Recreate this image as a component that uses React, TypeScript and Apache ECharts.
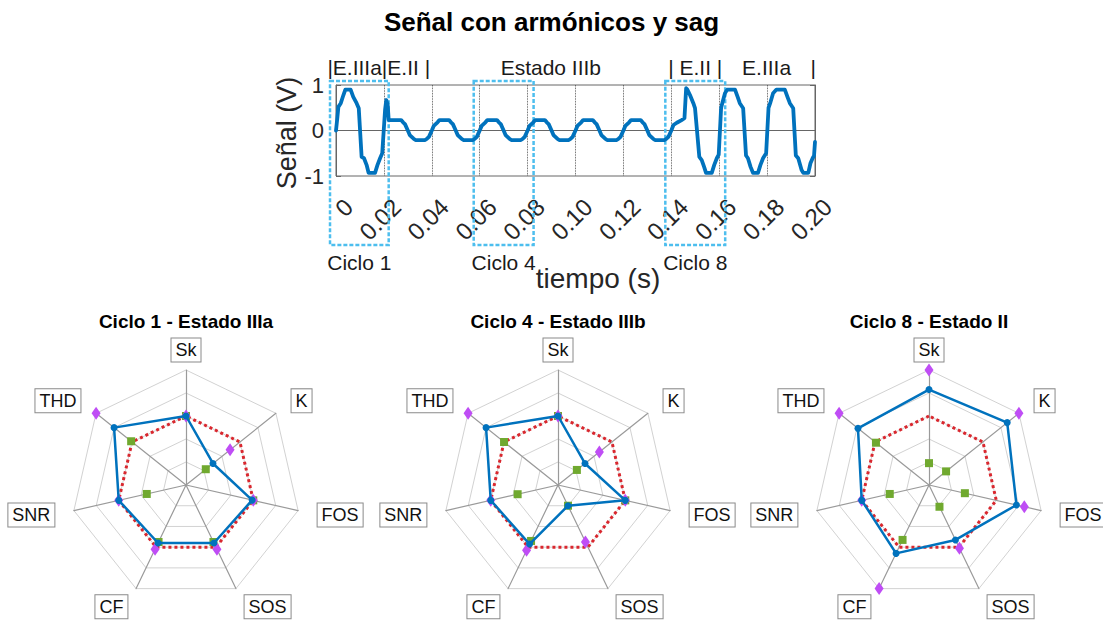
import React, { useEffect, useRef } from 'react';
import * as echarts from 'echarts';

const FONT = "'Liberation Sans', Arial, Helvetica, sans-serif";

// ---------- top chart data ----------
const TITLE = 'Señal con armónicos y sag';
const X_NAME = 'tiempo (s)';
const Y_NAME = 'Señal (V)';
const X_TICKS = ['0', '0.02', '0.04', '0.06', '0.08', '0.10', '0.12', '0.14', '0.16', '0.18', '0.20'];
const Y_TICKS = ['-1', '0', '1'];

// [time (s), signal (V)]
const SIGNAL: [number, number][] = [
  [0.0000, 0.00], [0.0006, 0.30], [0.0010, 0.52], [0.0020, 0.60], [0.0031, 0.78], [0.0039, 0.90],
  [0.0061, 0.90], [0.0072, 0.74], [0.0086, 0.60], [0.0095, 0.49], [0.0107, -0.58], [0.0117, -0.61],
  [0.0128, -0.76], [0.0136, -0.93], [0.0163, -0.93], [0.0173, -0.76], [0.0184, -0.61], [0.0193, -0.50],
  [0.0205, 0.46], [0.0210, 0.67], [0.0216, 0.56], [0.0220, 0.23],
  [0.0232, 0.23], [0.0272, 0.23], [0.0280, 0.18], [0.0288, 0.14], [0.0300, 0.00], [0.0308, -0.10],
  [0.0316, -0.14], [0.0324, -0.18], [0.0332, -0.21], [0.0372, -0.21], [0.0380, -0.18], [0.0388, -0.14],
  [0.0400, 0.00], [0.0408, 0.10], [0.0416, 0.14], [0.0424, 0.18], [0.0432, 0.23], [0.0472, 0.23],
  [0.0480, 0.18], [0.0488, 0.14], [0.0500, 0.00], [0.0508, -0.10], [0.0516, -0.14], [0.0524, -0.18],
  [0.0532, -0.21], [0.0572, -0.21], [0.0580, -0.18], [0.0588, -0.14],
  [0.0600, 0.00], [0.0608, 0.10], [0.0616, 0.14], [0.0624, 0.18], [0.0632, 0.23], [0.0672, 0.23],
  [0.0680, 0.18], [0.0688, 0.14], [0.0700, 0.00], [0.0708, -0.10], [0.0716, -0.14], [0.0724, -0.18],
  [0.0732, -0.21], [0.0772, -0.21], [0.0780, -0.18], [0.0788, -0.14],
  [0.0800, 0.00], [0.0808, 0.10], [0.0816, 0.14], [0.0824, 0.18], [0.0832, 0.23], [0.0872, 0.23],
  [0.0880, 0.18], [0.0888, 0.14], [0.0900, 0.00], [0.0908, -0.10], [0.0916, -0.14], [0.0924, -0.18],
  [0.0932, -0.21], [0.0972, -0.21], [0.0980, -0.18], [0.0988, -0.14],
  [0.1000, 0.00], [0.1008, 0.10], [0.1016, 0.14], [0.1024, 0.18], [0.1032, 0.23], [0.1072, 0.23],
  [0.1080, 0.18], [0.1088, 0.14], [0.1100, 0.00], [0.1108, -0.10], [0.1116, -0.14], [0.1124, -0.18],
  [0.1132, -0.21], [0.1172, -0.21], [0.1180, -0.18], [0.1188, -0.14],
  [0.1200, 0.00], [0.1208, 0.10], [0.1216, 0.14], [0.1224, 0.18], [0.1232, 0.23], [0.1272, 0.23],
  [0.1280, 0.18], [0.1288, 0.14], [0.1300, 0.00], [0.1308, -0.10], [0.1316, -0.14], [0.1324, -0.18],
  [0.1332, -0.21], [0.1372, -0.21], [0.1380, -0.18], [0.1388, -0.14],
  [0.1400, 0.00], [0.1409, 0.12], [0.1423, 0.17], [0.1443, 0.23], [0.1455, 0.27], [0.1462, 0.93],
  [0.1467, 0.90], [0.1478, 0.78], [0.1492, 0.60], [0.1499, 0.49], [0.1517, -0.58], [0.1527, -0.65],
  [0.1537, -0.80], [0.1545, -0.93], [0.1569, -0.93], [0.1579, -0.76], [0.1590, -0.61], [0.1598, -0.53],
  [0.1608, 0.50], [0.1614, 0.62], [0.1624, 0.82], [0.1634, 0.90], [0.1666, 0.90], [0.1677, 0.74],
  [0.1686, 0.60], [0.1700, 0.49], [0.1712, -0.55], [0.1720, -0.61], [0.1731, -0.80], [0.1741, -0.93],
  [0.1762, -0.93], [0.1772, -0.76], [0.1783, -0.61], [0.1796, -0.50],
  [0.1806, 0.50], [0.1814, 0.62], [0.1825, 0.82], [0.1839, 0.90], [0.1874, 0.90], [0.1885, 0.74],
  [0.1895, 0.60], [0.1909, 0.49], [0.1920, -0.55], [0.1930, -0.61], [0.1944, -0.87], [0.1951, -0.93],
  [0.1972, -0.93], [0.1981, -0.72], [0.1990, -0.61], [0.1996, -0.55], [0.2000, -0.25],
];

const STATE_LABELS = ['|E.IIIa|E.II |', 'Estado IIIb', '| E.II |', 'E.IIIa', '|'];
const STATE_T = [-0.0036, 0.0897, 0.1387, 0.1798, 0.1993];
const STATE_ALIGN = ['left', 'center', 'left', 'center', 'center'];

const CYCLE_LABELS = ['Ciclo 1', 'Ciclo 4', 'Ciclo 8'];
const CYCLE_START = [-0.0025, 0.0575, 0.1375];
const CYCLE_END = [0.0220, 0.0825, 0.1625];

// ---------- radar data (clockwise from top) ----------
const RADAR_AXES = ['Sk', 'K', 'FOS', 'SOS', 'CF', 'SNR', 'THD'];
const RADAR_TITLES = ['Ciclo 1 - Estado IIIa', 'Ciclo 4 - Estado IIIb', 'Ciclo 8 - Estado II'];

const REFERENCE_C1 = [0.60, 0.60, 0.60, 0.60, 0.60, 0.60, 0.60];
const VALUE_C1 = [0.60, 0.30, 0.59, 0.56, 0.56, 0.60, 0.80];
const MAX_C1 = [0.60, 0.49, 0.60, 0.62, 0.62, 0.60, 1.00];
const MIN_C1 = [0.60, 0.22, 0.60, 0.55, 0.55, 0.35, 0.61];

const REFERENCE_C4 = [0.60, 0.60, 0.60, 0.60, 0.60, 0.60, 0.60];
const VALUE_C4 = [0.60, 0.30, 0.60, 0.20, 0.57, 0.60, 0.80];
const MAX_C4 = [0.60, 0.46, 0.60, 0.55, 0.63, 0.60, 1.00];
const MIN_C4 = [0.60, 0.21, 0.60, 0.20, 0.54, 0.36, 0.60];

const REFERENCE_C8 = [0.60, 0.60, 0.60, 0.60, 0.60, 0.60, 0.60];
const VALUE_C8 = [0.83, 0.87, 0.78, 0.53, 0.66, 0.60, 0.79];
const MAX_C8 = [1.00, 1.00, 0.85, 0.61, 1.00, 0.60, 1.00];
const MIN_C8 = [0.19, 0.19, 0.32, 0.21, 0.53, 0.35, 0.59];

const RADAR_SETS = [
  { ref: REFERENCE_C1, val: VALUE_C1, max: MAX_C1, min: MIN_C1 },
  { ref: REFERENCE_C4, val: VALUE_C4, max: MAX_C4, min: MIN_C4 },
  { ref: REFERENCE_C8, val: VALUE_C8, max: MAX_C8, min: MIN_C8 },
];

// ---------- layout ----------
const W = 1103;
const H = 624;
const GRID = { left: 336, top: 85, width: 479, height: 91 };
const BOX_TOP = 81;
const BOX_BOTTOM = 245;
const CYCLE_LABEL_Y = 262;
const STATE_Y = 67;
const RADAR_CX = [186, 558, 929];
const RADAR_CY = 485;
const RADAR_R = 115;
const LABEL_R = 135;

// ECharts places radar indicators counter-clockwise; reorder clockwise lists
const CCW = [0, 6, 5, 4, 3, 2, 1];
const ccw = (arr: any[]) => CCW.map((i) => arr[i]);

const BLUE = '#0072bd';
const RED = '#d9272e';
const PURPLE = '#bf4df5';
const GREEN = '#70a92f';
const CYAN = '#4dbeee';

function buildOption() {
  const graphics: any[] = [];
  graphics.push({
    type: 'text', x: W / 2, y: 22,
    style: { text: TITLE, fontSize: 26, fontWeight: 'bold', fontFamily: FONT, fill: '#000', align: 'center', verticalAlign: 'middle' },
  });
  graphics.push({
    type: 'text', x: 598, y: 278,
    style: { text: X_NAME, fontSize: 28, fontFamily: FONT, fill: '#262626', align: 'center', verticalAlign: 'middle' },
  });
  graphics.push({
    type: 'text', x: 287, y: 133, rotation: Math.PI / 2,
    style: { text: Y_NAME, fontSize: 27, fontFamily: FONT, fill: '#262626', align: 'center', verticalAlign: 'middle' },
  });

  RADAR_CX.forEach((cx, r) => {
    graphics.push({
      type: 'text', x: cx, y: 321,
      style: { text: RADAR_TITLES[r], fontSize: 19, fontWeight: 'bold', fontFamily: FONT, fill: '#000', align: 'center', verticalAlign: 'middle' },
    });
    RADAR_AXES.forEach((name, k) => {
      const ang = ((90 - (k * 360) / 7) * Math.PI) / 180;
      const c = Math.cos(ang);
      const s = Math.sin(ang);
      const align = c > 0.1 ? 'left' : c < -0.1 ? 'right' : 'center';
      graphics.push({
        type: 'text', x: cx + LABEL_R * c, y: RADAR_CY - LABEL_R * s,
        style: {
          text: name, fontSize: 18, fontFamily: FONT, fill: '#111', align, verticalAlign: 'middle',
          backgroundColor: '#fff', borderColor: '#8a8a8a', borderWidth: 1, padding: [3, 4, 2, 4],
        },
      });
    });
  });

  const radars = RADAR_CX.map((cx) => ({
    center: [cx, RADAR_CY],
    radius: RADAR_R,
    startAngle: 90,
    splitNumber: 5,
    shape: 'polygon',
    indicator: ccw(RADAR_AXES).map((n) => ({ name: n, min: 0, max: 1 })),
    axisName: { show: false },
    splitArea: { show: false },
    splitLine: { lineStyle: { color: '#d2d2d2', width: 1 } },
    axisLine: { lineStyle: { color: '#9a9a9a', width: 1.2 } },
  }));

  const radarSeries: any[] = [];
  RADAR_SETS.forEach((set, r) => {
    radarSeries.push({
      type: 'radar', radarIndex: r, silent: true, z: 2,
      symbol: 'none',
      lineStyle: { color: RED, width: 3, type: [3, 3] },
      data: [{ value: ccw(set.ref) }],
    });
    radarSeries.push({
      type: 'radar', radarIndex: r, silent: true, z: 3,
      symbol: 'rect', symbolSize: 8,
      itemStyle: { color: GREEN },
      lineStyle: { width: 0, opacity: 0 },
      data: [{ value: ccw(set.min) }],
    });
    radarSeries.push({
      type: 'radar', radarIndex: r, silent: true, z: 3,
      symbol: 'diamond', symbolSize: [9, 13],
      itemStyle: { color: PURPLE },
      lineStyle: { width: 0, opacity: 0 },
      data: [{ value: ccw(set.max) }],
    });
    radarSeries.push({
      type: 'radar', radarIndex: r, silent: true, z: 4,
      symbol: 'circle', symbolSize: 7,
      itemStyle: { color: BLUE },
      lineStyle: { color: BLUE, width: 2.5 },
      data: [{ value: ccw(set.val) }],
    });
  });

  return {
    animation: false,
    backgroundColor: '#fff',
    textStyle: { fontFamily: FONT },
    grid: { ...GRID, show: true, borderColor: '#666', borderWidth: 1, backgroundColor: 'transparent', containLabel: false, outerBoundsMode: 'none' },
    xAxis: {
      type: 'value', min: 0, max: 0.2, interval: 0.02,
      axisLine: { show: true, lineStyle: { color: '#666' } },
      axisTick: { show: true, inside: true, length: 5, lineStyle: { color: '#666' } },
      axisLabel: {
        rotate: 45, fontSize: 24, color: '#262626', fontFamily: FONT, margin: 14, padding: [6, 0, 0, 0],
        verticalAlign: 'top', showMinLabel: true, showMaxLabel: true, hideOverlap: false,
        formatter: (v: number) => X_TICKS[Math.round(v / 0.02)] ?? '',
      },
      splitLine: { show: true, lineStyle: { type: 'dotted', color: '#333', width: 0.8 } },
    },
    yAxis: [
      {
        type: 'value', min: -1, max: 1, interval: 1,
        axisLine: { show: true, lineStyle: { color: '#666' } },
        axisTick: { show: true, inside: true, length: 5, lineStyle: { color: '#666' } },
        axisLabel: {
          fontSize: 22, color: '#262626', fontFamily: FONT, margin: 12, padding: [6, 0, 0, 0],
          formatter: (v: number) => Y_TICKS[Math.round(v) + 1] ?? '',
        },
        splitLine: { show: false },
      },
      {
        type: 'value', min: -1, max: 1, interval: 1, position: 'right',
        axisLine: { show: true, lineStyle: { color: '#666' } },
        axisTick: { show: true, inside: true, length: 5, lineStyle: { color: '#666' } },
        axisLabel: { show: false },
        splitLine: { show: false },
      },
    ],
    radar: radars,
    graphic: graphics,
    series: [
      {
        type: 'custom', xAxisIndex: 0, yAxisIndex: 0, clip: false, silent: true, z: 2,
        data: CYCLE_START.map((s, i) => [s, CYCLE_END[i]]),
        renderItem: (params: any, api: any) => {
          const i = params.dataIndex;
          const x0 = api.coord([api.value(0), 0])[0];
          const x1 = api.coord([api.value(1), 0])[0];
          return {
            type: 'group',
            children: [
              {
                type: 'rect',
                shape: { x: x0, y: BOX_TOP, width: x1 - x0, height: BOX_BOTTOM - BOX_TOP },
                style: { fill: 'none', stroke: CYAN, lineWidth: 2.5, lineDash: [4, 2] },
              },
              {
                type: 'text', x: (x0 + x1) / 2, y: CYCLE_LABEL_Y,
                style: { text: CYCLE_LABELS[i], fontSize: 21, fontFamily: FONT, fill: '#1a1a1a', align: 'center', verticalAlign: 'middle' },
              },
            ],
          };
        },
      },
      {
        type: 'custom', xAxisIndex: 0, yAxisIndex: 0, clip: false, silent: true, z: 2,
        data: STATE_T.map((t) => [t, 0]),
        renderItem: (params: any, api: any) => {
          const i = params.dataIndex;
          const x = api.coord([api.value(0), 0])[0];
          return {
            type: 'text', x, y: STATE_Y,
            style: { text: STATE_LABELS[i], fontSize: 21, fontFamily: FONT, fill: '#1a1a1a', align: STATE_ALIGN[i], verticalAlign: 'middle' },
          };
        },
      },
      {
        type: 'line', xAxisIndex: 0, yAxisIndex: 0, z: 3, silent: true,
        data: SIGNAL, showSymbol: false, symbol: 'none',
        lineStyle: { color: BLUE, width: 3.8, join: 'round', cap: 'round' },
      },
      ...radarSeries,
    ],
  };
}

export default function App() {
  const ref = useRef<HTMLDivElement>(null);
  useEffect(() => {
    document.body.style.margin = '0';
    if (!ref.current) return;
    const chart = echarts.init(ref.current, undefined, { renderer: 'svg' });
    chart.setOption(buildOption() as any);
    return () => chart.dispose();
  }, []);
  return <div ref={ref} style={{ width: W, height: H }} />;
}
